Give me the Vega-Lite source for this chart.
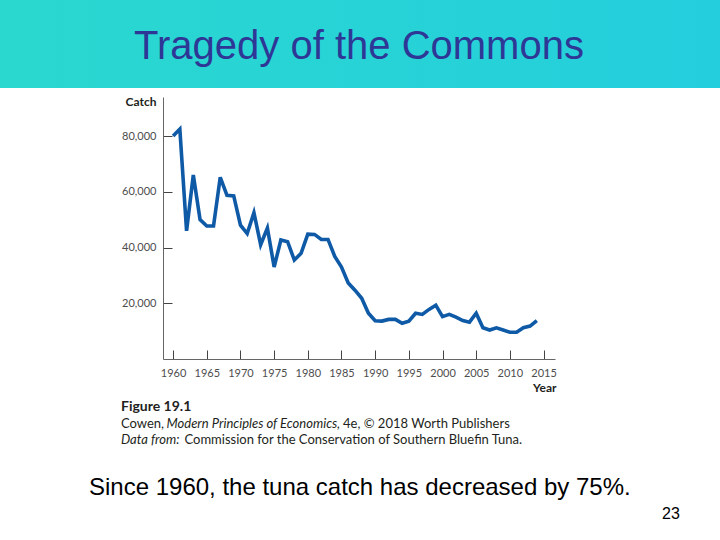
{
  "$schema": "https://vega.github.io/schema/vega-lite/v6.json",
  "width": 392,
  "height": 262,
  "autosize": {"type": "none"},
  "padding": {"left": 163, "top": 97, "right": 165, "bottom": 181},
  "background": "white",
  "config": {"view": {"stroke": null}, "font": "Lato"},
  "resolve": {"axis": {"x": "independent", "y": "independent"}},
  "datasets": {
    "tuna": [
      {"year": 1960, "catch": 80000}, {"year": 1961, "catch": 82500}, {"year": 1962, "catch": 46000},
      {"year": 1963, "catch": 66000}, {"year": 1964, "catch": 50000}, {"year": 1965, "catch": 47700},
      {"year": 1966, "catch": 47700}, {"year": 1967, "catch": 65200}, {"year": 1968, "catch": 58700},
      {"year": 1969, "catch": 58500}, {"year": 1970, "catch": 48000}, {"year": 1971, "catch": 45000},
      {"year": 1972, "catch": 52500}, {"year": 1973, "catch": 41000}, {"year": 1974, "catch": 47000},
      {"year": 1975, "catch": 33000}, {"year": 1976, "catch": 42700}, {"year": 1977, "catch": 42100},
      {"year": 1978, "catch": 35500}, {"year": 1979, "catch": 37900}, {"year": 1980, "catch": 44800},
      {"year": 1981, "catch": 44700}, {"year": 1982, "catch": 42900}, {"year": 1983, "catch": 42900},
      {"year": 1984, "catch": 36800}, {"year": 1985, "catch": 33000}, {"year": 1986, "catch": 27300},
      {"year": 1987, "catch": 24700}, {"year": 1988, "catch": 21800}, {"year": 1989, "catch": 16400},
      {"year": 1990, "catch": 13700}, {"year": 1991, "catch": 13600}, {"year": 1992, "catch": 14200},
      {"year": 1993, "catch": 14200}, {"year": 1994, "catch": 12800}, {"year": 1995, "catch": 13600},
      {"year": 1996, "catch": 16400}, {"year": 1997, "catch": 16000}, {"year": 1998, "catch": 17800},
      {"year": 1999, "catch": 19300}, {"year": 2000, "catch": 15200}, {"year": 2001, "catch": 16000},
      {"year": 2002, "catch": 15000}, {"year": 2003, "catch": 13800}, {"year": 2004, "catch": 13200},
      {"year": 2005, "catch": 16400}, {"year": 2006, "catch": 11200}, {"year": 2007, "catch": 10400},
      {"year": 2008, "catch": 11200}, {"year": 2009, "catch": 10400}, {"year": 2010, "catch": 9600},
      {"year": 2011, "catch": 9600}, {"year": 2012, "catch": 11200}, {"year": 2013, "catch": 11800},
      {"year": 2014, "catch": 13800}
    ]
  },
  "layer": [
    {
      "data": {"name": "tuna"},
      "mark": {"type": "line", "color": "#0F5AA6", "strokeWidth": 3.6},
      "encoding": {
        "x": {
          "field": "year", "type": "quantitative",
          "scale": {"domain": [1958.5, 2016.7], "nice": false, "zero": false},
          "axis": {
            "values": [1960, 1965, 1970, 1975, 1980, 1985, 1990, 1995, 2000, 2005, 2010, 2015],
            "format": "d", "grid": false, "labelOverlap": false, "labelFlush": false,
            "labelFont": "Lato", "labelFontSize": 11, "labelColor": "#4D4D4D", "labelPadding": 17,
            "ticks": true, "tickSize": -9, "tickColor": "#444444", "domain": true, "domainColor": "#666666",
            "title": "Year", "titleFont": "Lato", "titleFontSize": 12, "titleFontWeight": "bold", "titleColor": "#231F20",
            "titleX": 393, "titleY": 32, "titleAlign": "right", "titleBaseline": "alphabetic"
          }
        },
        "y": {
          "field": "catch", "type": "quantitative",
          "scale": {"domain": [0, 94000], "nice": false, "zero": false},
          "axis": {
            "values": [20000, 40000, 60000, 80000],
            "format": ",d", "grid": false, "labelOverlap": false, "labelFlush": false,
            "labelFont": "Lato", "labelFontSize": 11, "labelColor": "#4D4D4D", "labelPadding": 16,
            "ticks": true, "tickSize": -9, "tickColor": "#444444", "domain": true, "domainColor": "#666666",
            "title": "Catch", "titleFont": "Lato", "titleFontSize": 12, "titleFontWeight": "bold", "titleColor": "#231F20",
            "titleAngle": 0, "titleX": -7, "titleY": 8, "titleAlign": "right", "titleBaseline": "alphabetic"
          }
        }
      }
    },
    {
      "data": {"values": [{"part": "header"}]},
      "mark": {
        "type": "rect",
        "color": {
          "gradient": "linear", "x1": 0, "x2": 1, "y1": 0, "y2": 0,
          "stops": [{"offset": 0, "color": "#2AD8CF"}, {"offset": 1, "color": "#24CEDD"}]
        }
      },
      "encoding": {
        "x": {"datum": 1934.3, "type": "quantitative", "scale": {"domain": [1958.5, 2016.7], "nice": false, "zero": false}, "axis": null},
        "x2": {"datum": 2041.6},
        "y": {"datum": 128900, "type": "quantitative", "scale": {"domain": [0, 94000], "nice": false, "zero": false}, "axis": null},
        "y2": {"datum": 97229}
      }
    },
    {
      "data": {"values": [{"t": "Tragedy of the Commons"}]},
      "mark": {"type": "text", "align": "center", "baseline": "alphabetic", "font": "Liberation Sans", "fontSize": 40, "color": "#2E3796"},
      "encoding": {
        "x": {"datum": 1987.6, "type": "quantitative", "scale": {"domain": [1958.5, 2016.7], "nice": false, "zero": false}, "axis": null},
        "y": {"datum": 107634, "type": "quantitative", "scale": {"domain": [0, 94000], "nice": false, "zero": false}, "axis": null},
        "text": {"field": "t"}
      }
    },
    {
      "data": {"values": [{"t": "Figure 19.1"}]},
      "mark": {"type": "text", "align": "left", "baseline": "alphabetic", "font": "Lato", "fontSize": 14, "fontWeight": "bold", "color": "#231F20"},
      "encoding": {
        "x": {"datum": 1952.26, "type": "quantitative", "scale": {"domain": [1958.5, 2016.7], "nice": false, "zero": false}, "axis": null},
        "y": {"datum": -18657, "type": "quantitative", "scale": {"domain": [0, 94000], "nice": false, "zero": false}, "axis": null},
        "text": {"field": "t"}
      }
    },
    {
      "data": {"values": [{"t": "Cowen,"}]},
      "mark": {"type": "text", "align": "left", "baseline": "alphabetic", "font": "Lato", "fontSize": 13, "color": "#231F20"},
      "encoding": {
        "x": {"datum": 1952.26, "type": "quantitative", "scale": {"domain": [1958.5, 2016.7], "nice": false, "zero": false}, "axis": null},
        "y": {"datum": -24756, "type": "quantitative", "scale": {"domain": [0, 94000], "nice": false, "zero": false}, "axis": null},
        "text": {"field": "t"}
      }
    },
    {
      "data": {"values": [{"t": "Modern Principles of Economics"}]},
      "mark": {"type": "text", "align": "left", "baseline": "alphabetic", "font": "Lato", "fontSize": 13, "fontStyle": "italic", "color": "#231F20"},
      "encoding": {
        "x": {"datum": 1959.02, "type": "quantitative", "scale": {"domain": [1958.5, 2016.7], "nice": false, "zero": false}, "axis": null},
        "y": {"datum": -24756, "type": "quantitative", "scale": {"domain": [0, 94000], "nice": false, "zero": false}, "axis": null},
        "text": {"field": "t"}
      }
    },
    {
      "data": {"values": [{"t": ", 4e, © 2018 Worth Publishers"}]},
      "mark": {"type": "text", "align": "left", "baseline": "alphabetic", "font": "Lato", "fontSize": 13, "color": "#231F20"},
      "encoding": {
        "x": {"datum": 1984.3, "type": "quantitative", "scale": {"domain": [1958.5, 2016.7], "nice": false, "zero": false}, "axis": null},
        "y": {"datum": -24756, "type": "quantitative", "scale": {"domain": [0, 94000], "nice": false, "zero": false}, "axis": null},
        "text": {"field": "t"}
      }
    },
    {
      "data": {"values": [{"t": "Data from:"}]},
      "mark": {"type": "text", "align": "left", "baseline": "alphabetic", "font": "Lato", "fontSize": 13, "fontStyle": "italic", "color": "#231F20"},
      "encoding": {
        "x": {"datum": 1952.26, "type": "quantitative", "scale": {"domain": [1958.5, 2016.7], "nice": false, "zero": false}, "axis": null},
        "y": {"datum": -30496, "type": "quantitative", "scale": {"domain": [0, 94000], "nice": false, "zero": false}, "axis": null},
        "text": {"field": "t"}
      }
    },
    {
      "data": {"values": [{"t": "Commission for the Conservation of Southern Bluefin Tuna."}]},
      "mark": {"type": "text", "align": "left", "baseline": "alphabetic", "font": "Lato", "fontSize": 13, "color": "#231F20"},
      "encoding": {
        "x": {"datum": 1961.69, "type": "quantitative", "scale": {"domain": [1958.5, 2016.7], "nice": false, "zero": false}, "axis": null},
        "y": {"datum": -30496, "type": "quantitative", "scale": {"domain": [0, 94000], "nice": false, "zero": false}, "axis": null},
        "text": {"field": "t"}
      }
    },
    {
      "data": {"values": [{"t": "Since 1960, the tuna catch has decreased by 75%."}]},
      "mark": {"type": "text", "align": "left", "baseline": "alphabetic", "font": "Liberation Sans", "fontSize": 24, "color": "#000000"},
      "encoding": {
        "x": {"datum": 1947.51, "type": "quantitative", "scale": {"domain": [1958.5, 2016.7], "nice": false, "zero": false}, "axis": null},
        "y": {"datum": -48794, "type": "quantitative", "scale": {"domain": [0, 94000], "nice": false, "zero": false}, "axis": null},
        "text": {"field": "t"}
      }
    },
    {
      "data": {"values": [{"t": "23"}]},
      "mark": {"type": "text", "align": "left", "baseline": "alphabetic", "font": "Liberation Sans", "fontSize": 16, "color": "#000000"},
      "encoding": {
        "x": {"datum": 2032.59, "type": "quantitative", "scale": {"domain": [1958.5, 2016.7], "nice": false, "zero": false}, "axis": null},
        "y": {"datum": -57405, "type": "quantitative", "scale": {"domain": [0, 94000], "nice": false, "zero": false}, "axis": null},
        "text": {"field": "t"}
      }
    }
  ]
}
